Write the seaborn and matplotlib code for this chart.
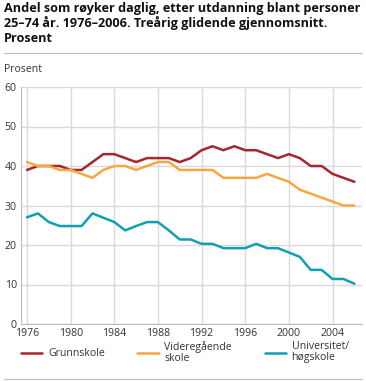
import numpy as np
import pandas as pd
import matplotlib
matplotlib.use("Agg")
import matplotlib.pyplot as plt
from matplotlib.ticker import MultipleLocator
import seaborn as sns

# data (lest av figuren)
years = list(range(1976, 2007))
grunnskole = [39, 40, 40, 40, 39, 39, 41, 43, 43, 42, 41, 42, 42, 42, 41, 42,
              44, 45, 44, 45, 44, 44, 43, 42, 43, 42, 40, 40, 38, 37, 36]
videregaende = [41, 40, 40, 39, 39, 38, 37, 39, 40, 40, 39, 40, 41, 41, 39, 39,
                39, 39, 37, 37, 37, 37, 38, 37, 36, 34, 33, 32, 31, 30, 30]
universitet = [27, 28, 25.8, 24.8, 24.8, 24.8, 28, 26.9, 25.8, 23.7, 24.8, 25.8, 25.8, 23.7, 21.4, 21.4,
               20.3, 20.3, 19.2, 19.2, 19.2, 20.3, 19.2, 19.2, 18.1, 17, 13.7, 13.7, 11.4, 11.4, 10.2]
series_names = ["Grunnskole", "Videregående\nskole", "Universitet/\nhøgskole"]
colors = ["#a3272b", "#f7a643", "#119fb2"]
title = "Andel som røyker daglig, etter utdanning blant personer\n25–74 år. 1976–2006. Treårig glidende gjennomsnitt.\nProsent"

df = pd.DataFrame({
    "year": years * 3,
    "value": grunnskole + videregaende + universitet,
    "group": np.repeat(series_names, len(years)),
})

sns.set_style("white")
plt.rcParams["font.family"] = ["Open Sans", "DejaVu Sans"]

fig = plt.figure(figsize=(3.66, 3.81), dpi=100)
ax = fig.add_axes([21 / 366, 1 - 324 / 381, 341 / 366, 237 / 381])

sns.lineplot(data=df, x="year", y="value", hue="group", palette=colors,
             linewidth=1.8, ax=ax)

ax.set_xlim(1975.45, 2006.7)
ax.set_ylim(0, 60)
ax.set_xticks(range(1976, 2005, 4))
ax.xaxis.set_minor_locator(MultipleLocator(1))
ax.set_yticks(range(0, 61, 10))
ax.grid(True, color="#d9d9df", linewidth=1)
ax.set_axisbelow(True)
for s in ["top", "right"]:
    ax.spines[s].set_visible(False)
for s in ["left", "bottom"]:
    ax.spines[s].set_color("#bdbdbd")
    ax.spines[s].set_linewidth(0.8)
ax.tick_params(axis="both", labelsize=7.6, colors="#333333", pad=1)
ax.tick_params(axis="y", length=0, pad=3)
ax.tick_params(axis="x", which="major", length=4, direction="inout", color="#bdbdbd")
ax.tick_params(axis="x", which="minor", length=3.5, direction="in", color="#bdbdbd")
ax.set_xlabel("")
ax.set_ylabel("")

fig.text(4 / 366, 1 - 2 / 381, title, fontsize=9.1, fontweight="bold",
         va="top", ha="left", linespacing=1.12, color="#111111")
fig.text(4 / 366, 1 - 70 / 381, "Prosent", fontsize=7.6, va="center", ha="left", color="#333333")
fig.add_artist(plt.Line2D([0.01, 0.99], [1 - 53 / 381, 1 - 53 / 381], color="#bdbdbd", linewidth=0.8))
fig.add_artist(plt.Line2D([0.01, 0.99], [1 - 379 / 381, 1 - 379 / 381], color="#bdbdbd", linewidth=0.8))

handles, labels = ax.get_legend_handles_labels()
ax.legend(handles, labels, loc="upper left", bbox_to_anchor=(21 / 366, 1 - 341 / 381),
          bbox_transform=fig.transFigure, ncol=3, frameon=False, fontsize=7.6,
          handlelength=2.0, handletextpad=0.55, columnspacing=3.1,
          borderpad=0, borderaxespad=0, labelspacing=0.2)
for t in ax.get_legend().get_texts():
    t.set_color("#333333")
    t.set_linespacing(1.0)
for line in ax.get_legend().get_lines():
    line.set_linewidth(1.8)

fig.savefig("out.png", dpi=100)
